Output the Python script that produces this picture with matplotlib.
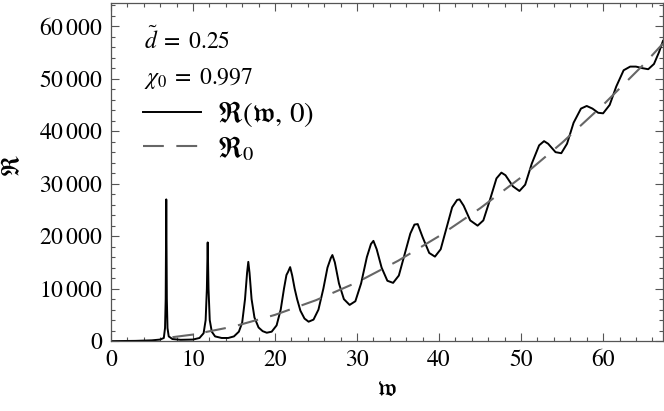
import numpy as np
import matplotlib
matplotlib.use("Agg")
import matplotlib.pyplot as plt
from matplotlib.ticker import MultipleLocator, FuncFormatter

plt.rcParams['mathtext.fontset'] = 'stix'
plt.rcParams['font.family'] = 'STIXGeneral'

# R(w, 0)
w = [0, 3, 5, 6, 6.45, 6.6, 6.68, 6.75, 6.82, 6.9, 7.05, 7.5, 8.5, 10, 10.8,
     11.3, 11.55, 11.7, 11.8, 11.9, 12.05, 12.3, 12.7, 13.5, 14.3, 15.0, 15.6,
     16.0, 16.35, 16.6, 16.75, 16.9, 17.15, 17.5, 18.0, 18.5, 19.0, 19.6, 20.2,
     20.7, 21.1, 21.4, 21.6, 21.85, 22.1, 22.4, 22.7, 23.1, 23.6, 24.1, 24.7,
     25.3, 25.9, 26.4, 26.8, 27.0, 27.3, 27.8, 28.4, 29.1, 29.8, 30.5, 31.2,
     31.7, 32.0, 32.4, 33.0, 33.7, 34.4, 35.1, 35.8, 36.5, 37.0, 37.4, 38.0,
     38.8, 39.5, 40.2, 40.9, 41.6, 42.2, 42.5, 43.0, 43.8, 44.7, 45.4, 46.2,
     47.0, 47.6, 48.1, 49.0, 49.8, 50.5, 51.3, 52.2, 52.8, 53.3, 54.2, 54.9,
     55.6, 56.4, 57.3, 58.0, 58.7, 59.4, 60.0, 60.8, 61.6, 62.5, 63.3, 64.0,
     64.8, 65.5, 66.2, 66.8, 67.3]
R = [0, 50, 150, 300, 600, 2500, 8000, 27000, 8000, 2500, 900, 400, 250, 300, 600,
     1500, 4000, 10000, 18800, 10000, 4000, 1800, 900, 600, 600, 900, 1800,
     3500, 8000, 13000, 15100, 13000, 8000, 4500, 2600, 1900, 1600, 1800, 3000,
     6000, 10000, 12600, 13200, 14100, 12500, 10000, 8000, 5800, 4300, 3700, 4100,
     6000, 10000, 14000, 15800, 16400, 15000, 11000, 8000, 6900, 7600, 11000, 16000,
     18500, 19100, 17500, 14000, 11500, 11100, 12500, 16500, 20500, 22200, 22300, 19800,
     16800, 16100, 17500, 21500, 25500, 26900, 27000, 25800, 23000, 22000, 23000, 26900,
     31000, 32100, 31600, 29500, 28600, 29800, 33800, 37300, 38100, 37600, 36000, 35800,
     37600, 41600, 44300, 44800, 44300, 43500, 43400, 45000, 48500, 51600, 52300, 52300,
     52000, 51800, 52800, 55000, 57200]

# R_0
w0 = [7.5, 10, 15, 20, 25, 30, 35, 40, 45, 50, 55, 60, 65, 67.3]
R0 = [750, 1250, 2800, 5000, 7800, 11200, 15300, 20000, 25300, 31200, 37800, 45000, 52800, 56700]

fig = plt.figure(figsize=(6.64, 4.11), dpi=100)
ax = fig.add_axes([0.167, 0.170, 0.8315, 0.8225])

ln1, = ax.plot(w, R, color='black', lw=1.4, label=r'$\mathfrak{R}(\mathfrak{w},\, 0)$')
ln2, = ax.plot(w0, R0, color='#666666', lw=1.5, dashes=(10, 6),
               label=r'$\mathfrak{R}_0$')

ax.set_xlim(0, 67.3)
ax.set_ylim(0, 64400)
ax.xaxis.set_major_locator(MultipleLocator(10))
ax.xaxis.set_minor_locator(MultipleLocator(2))
ax.yaxis.set_major_locator(MultipleLocator(10000))
ax.yaxis.set_minor_locator(MultipleLocator(2000))
ax.yaxis.set_major_formatter(FuncFormatter(
    lambda v, p: '0' if v == 0 else r'$%d\,000$' % (v // 1000)))
ax.tick_params(which='both', direction='in', top=True, right=True,
               labelsize=17, color='#555555', width=0.8, pad=6)
ax.tick_params(which='major', length=6)
ax.tick_params(which='minor', length=3)
for s in ax.spines.values():
    s.set_color('#555555')
    s.set_linewidth(0.9)

ax.set_xlabel(r'$\mathfrak{w}$', fontsize=18, labelpad=5)
ax.set_ylabel(r'$\mathfrak{R}$', fontsize=18, va='center')
ax.yaxis.set_label_coords(-0.178, 0.52)

ax.text(0.06, 0.89, r'$\tilde{d}\;=\;0.25$', transform=ax.transAxes,
        fontsize=17, va='center')
ax.text(0.06, 0.778, r'$\chi_0\;=\;0.997$', transform=ax.transAxes,
        fontsize=17, va='center')
ax.legend(handles=[ln1, ln2], loc='upper left', bbox_to_anchor=(0.058, 0.715),
          frameon=False, fontsize=21, handlelength=2.0, handletextpad=0.55,
          labelspacing=0.15, borderaxespad=0, borderpad=0)

fig.savefig('out.png', dpi=100)
